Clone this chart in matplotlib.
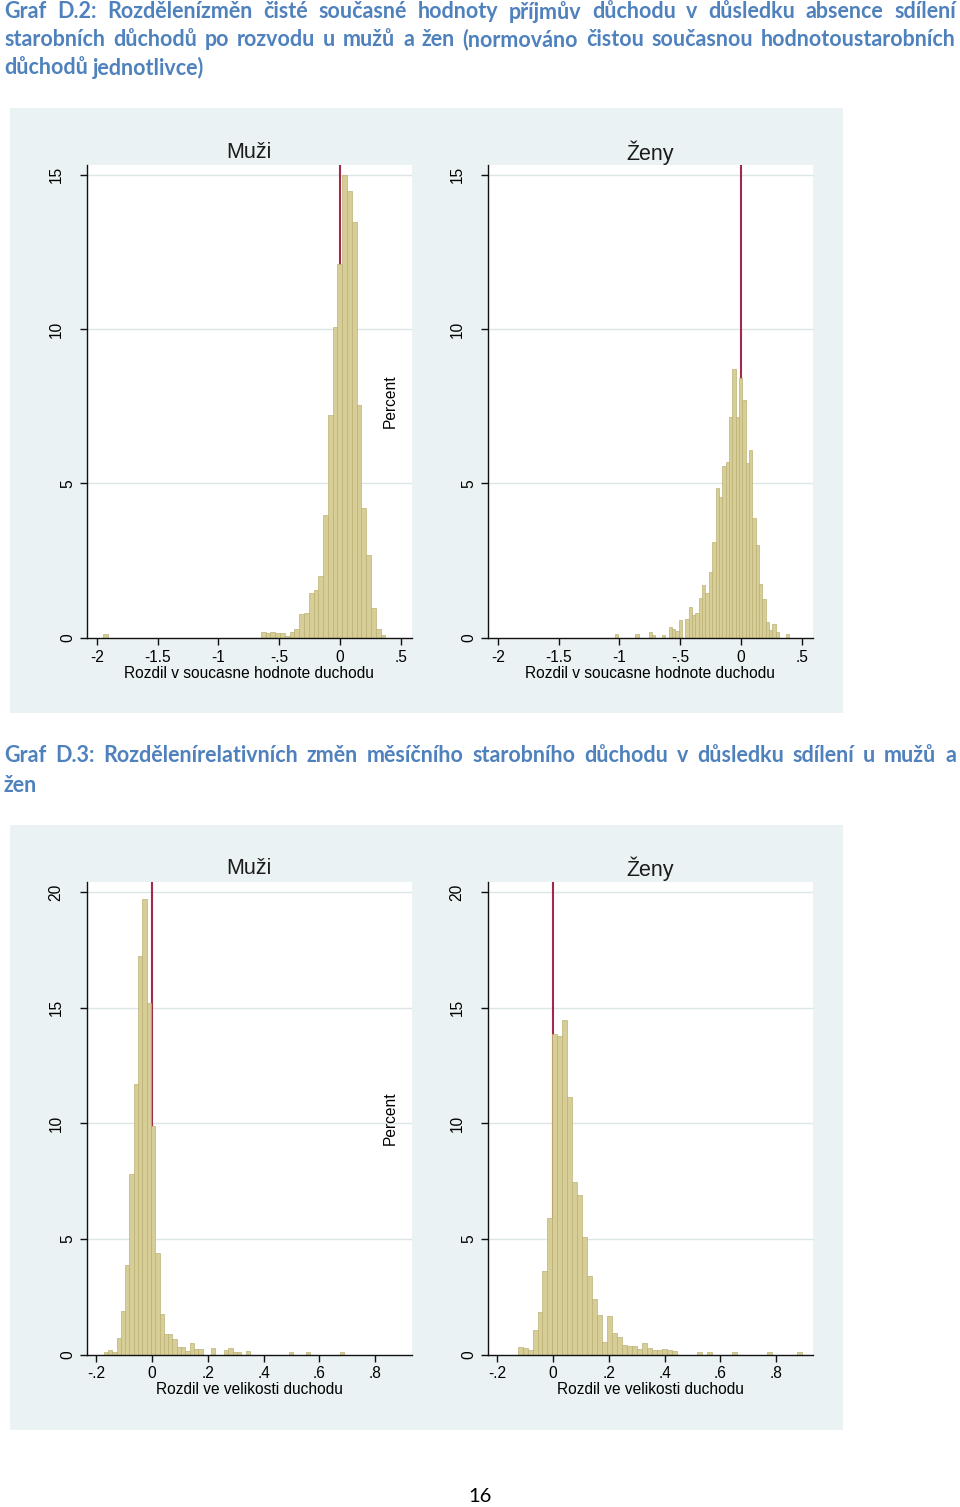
import matplotlib
matplotlib.use("Agg")
import matplotlib.pyplot as plt
from matplotlib.patches import Rectangle
from matplotlib import transforms

W, H, DPI = 960, 1507, 100

# ------------------------------------------------------------------ DATA
# Graf D.2 : percent of individuals per bin (histogram heights)
d2_muzi_start = -1.948
d2_muzi_width = 0.0393
d2_muzi_pct = [0.11,
               0, 0, 0, 0, 0, 0, 0, 0, 0, 0, 0, 0, 0, 0, 0, 0,
               0, 0, 0, 0, 0, 0, 0, 0, 0, 0, 0, 0, 0, 0, 0, 0,
               0.18, 0.15, 0.18, 0.13, 0.15, 0.04, 0.18, 0.29, 0.76, 0.80,
               1.43, 1.54, 1.99, 3.97, 7.20, 10.06, 12.12, 15.00, 14.47, 13.48,
               7.55, 4.19, 2.68, 0.97, 0.26, 0.08]

d2_zeny_start = -1.0358
d2_zeny_width = 0.0275
d2_zeny_pct = [0.11, 0, 0, 0, 0, 0, 0.11, 0, 0, 0,
               0.18, 0.08, 0, 0, 0.08, 0, 0.33, 0.29, 0.22, 0.57,
               0, 0.59, 0.99, 0.72, 0.81, 1.29, 1.69, 1.43, 2.13, 3.10,
               4.85, 4.55, 5.55, 5.70, 7.15, 8.69, 7.15, 8.40, 7.70, 5.65,
               6.08, 3.86, 3.00, 1.75, 1.25, 0.50, 0.24, 0.43, 0.17, 0,
               0, 0.11]

d2_xticks = [-2, -1.5, -1, -0.5, 0, 0.5]
d2_xticklabels = ["-2", "-1.5", "-1", "-.5", "0", ".5"]
d2_yticks = [0, 5, 10, 15]
d2_xlabel = "Rozdil v soucasne hodnote duchodu"

# Graf D.3
d3_muzi_start = -0.1732
d3_muzi_width = 0.01541
d3_muzi_pct = [0.09, 0.20, 0.12, 0.72, 1.89, 3.86, 7.79, 11.69, 17.21, 19.69,
               15.21, 9.89, 4.37, 1.74, 0.88, 0.88, 0.69, 0.33, 0.33, 0.14,
               0.49, 0.23, 0.23, 0, 0, 0.30, 0, 0, 0.19, 0.30,
               0.12, 0.09, 0, 0.14, 0, 0, 0, 0, 0, 0,
               0, 0, 0, 0.09, 0, 0, 0, 0.09, 0, 0,
               0, 0, 0, 0, 0, 0.12]

d3_zeny_start = -0.127
d3_zeny_width = 0.01786
d3_zeny_pct = [0.33, 0.27, 0.19, 1.05, 1.85, 3.61, 5.89, 13.85, 13.75, 14.47,
               11.15, 7.47, 6.90, 5.09, 3.39, 2.42, 1.70, 0.55, 1.66, 0.91,
               0.74, 0.40, 0.36, 0.36, 0.22, 0.51, 0.26, 0.19, 0.19, 0.25,
               0.19, 0.13, 0, 0, 0, 0, 0.09, 0, 0.09, 0,
               0, 0, 0, 0.09, 0, 0, 0, 0, 0, 0,
               0.09, 0, 0, 0, 0, 0, 0.09]

d3_xticks = [-0.2, 0, 0.2, 0.4, 0.6, 0.8]
d3_xticklabels = ["-.2", "0", ".2", ".4", ".6", ".8"]
d3_yticks = [0, 5, 10, 15, 20]
d3_xlabel = "Rozdil ve velikosti duchodu"

panel_titles = ["Muži", "Ženy"]
ylabel_text = "Percent"
ref_line_x = 0

title_d2 = ["Graf D.2: Rozdělenízměn čisté současné hodnoty příjmův důchodu v důsledku absence sdílení",
            "starobních důchodů po rozvodu u mužů a žen (normováno čistou současnou hodnotoustarobních",
            "důchodů jednotlivce)"]
title_d3 = ["Graf D.3: Rozdělenírelativních změn měsíčního starobního důchodu v důsledku sdílení u mužů a",
            "žen"]
page_number = "16"

# ------------------------------------------------------------------ STYLE
BG = "#EAF2F3"
GRID = "#DCE6E8"
BAR_FC = "#D6CE96"
BAR_EC = "#BBB174"
REF = "#A3294C"
TITLE_BLUE = "#4F81BD"
AX_FONT = ["Liberation Sans", "DejaVu Sans"]
TITLE_FONT = ["Lato", "DejaVu Sans"]

fig = plt.figure(figsize=(W / DPI, H / DPI), dpi=DPI)
fig.patch.set_facecolor("white")


def fx(px):
    return px / W


def fy(py):
    return 1 - py / H


def add_bg(x0, y0, x1, y1):
    fig.add_artist(Rectangle((fx(x0), fy(y1)), (x1 - x0) / W, (y1 - y0) / H,
                             transform=fig.transFigure, facecolor=BG,
                             edgecolor="none", zorder=-5))


def hist_panel(box, start, width, pct, xlim, ylim, xticks, xticklabels, yticks,
               tick_y_px, title, title_y_px):
    x0, y0, x1, y1 = box
    ax = fig.add_axes([fx(x0), fy(y1), (x1 - x0) / W, (y1 - y0) / H])
    ax.set_facecolor("white")
    lefts = [start + i * width for i in range(len(pct))]
    sel = [(l, h) for l, h in zip(lefts, pct) if h > 0]
    ax.bar([s[0] for s in sel], [s[1] for s in sel], width=width, align="edge",
           color=BAR_FC, edgecolor=BAR_EC, linewidth=0.5, zorder=3)
    ax.axvline(ref_line_x, color=REF, lw=1.5, zorder=2)
    for v in yticks[1:]:
        ax.axhline(v, color=GRID, lw=1.0, zorder=1)
    ax.set_xlim(*xlim)
    ax.set_ylim(*ylim)
    for s in ["top", "right"]:
        ax.spines[s].set_visible(False)
    for s in ["left", "bottom"]:
        ax.spines[s].set_linewidth(1.0)
        ax.spines[s].set_color("#111111")
        ax.spines[s].set_zorder(4)
    ax.set_xticks(xticks)
    ax.set_yticks(yticks)
    ax.tick_params(length=5, width=1, color="#111111", direction="out",
                   labelbottom=False, labelleft=False)
    # x tick labels
    tr_x = transforms.blended_transform_factory(ax.transData, fig.transFigure)
    for v, lab in zip(xticks, xticklabels):
        ax.text(v, fy(tick_y_px), lab, transform=tr_x, ha="center", va="center",
                fontsize=11.2, family=AX_FONT, color="black")
    # y tick labels (rotated)
    tr_y = transforms.blended_transform_factory(fig.transFigure, ax.transData)
    for v in yticks:
        lab = str(v)
        cx = x0 - 7 - 12 * len(lab)
        ax.text(fx(cx), v, lab, transform=tr_y, rotation=90, ha="center",
                va="center", fontsize=11.2, family=AX_FONT, color="black")
    fig.text(fx((x0 + x1) / 2), fy(title_y_px), title, ha="center", va="center",
             fontsize=15.5, family=AX_FONT, color="#1b1b1b")
    return ax


# ------------------------------------------------------------------ D.2
add_bg(10, 108, 843, 713)
d2_xlim = (-2.08, 0.586)
d2_ylim = (0, 15.32)
hist_panel((87, 165, 411.5, 637.5), d2_muzi_start, d2_muzi_width, d2_muzi_pct,
           d2_xlim, d2_ylim, d2_xticks, d2_xticklabels, d2_yticks, 657,
           panel_titles[0], 153)
hist_panel((488, 165, 812.5, 637.5), d2_zeny_start, d2_zeny_width, d2_zeny_pct,
           d2_xlim, d2_ylim, d2_xticks, d2_xticklabels, d2_yticks, 657,
           panel_titles[1], 153)
for cx in (249, 650):
    fig.text(fx(cx), fy(673), d2_xlabel, ha="center", va="center",
             fontsize=11.2, family=AX_FONT, color="black")
fig.text(fx(390), fy(401), ylabel_text, rotation=90, ha="center", va="center",
         fontsize=11.2, family=AX_FONT, color="black")

# ------------------------------------------------------------------ D.3
add_bg(10, 825, 843, 1430)
d3_xlim = (-0.233, 0.93)
d3_ylim = (0, 20.43)
hist_panel((87, 882, 411.5, 1354.5), d3_muzi_start, d3_muzi_width, d3_muzi_pct,
           d3_xlim, d3_ylim, d3_xticks, d3_xticklabels, d3_yticks, 1373,
           panel_titles[0], 869)
hist_panel((488, 882, 812.5, 1354.5), d3_zeny_start, d3_zeny_width, d3_zeny_pct,
           d3_xlim, d3_ylim, d3_xticks, d3_xticklabels, d3_yticks, 1373,
           panel_titles[1], 869)
for cx in (249, 650):
    fig.text(fx(cx), fy(1389), d3_xlabel, ha="center", va="center",
             fontsize=11.2, family=AX_FONT, color="black")
fig.text(fx(390), fy(1118), ylabel_text, rotation=90, ha="center", va="center",
         fontsize=11.2, family=AX_FONT, color="black")

# ------------------------------------------------------------------ TITLES (justified)
renderer = fig.canvas.get_renderer()
LEFT, RIGHT = 4, 956
TSIZE = 15.5


def word_widths(words, size):
    ws = []
    for w in words:
        t = fig.text(0, 0, w, fontsize=size, family=TITLE_FONT, weight="bold")
        ws.append(t.get_window_extent(renderer).width)
        t.remove()
    return ws


# fit size so that the longest justified line keeps a minimal word gap
for line in (title_d2[0], title_d2[1], title_d3[0]):
    words = line.split()
    ws = word_widths(words, TSIZE)
    need = sum(ws) + (len(words) - 1) * 0.2 * TSIZE * DPI / 72
    if need > RIGHT - LEFT:
        TSIZE *= (RIGHT - LEFT) / need


def draw_line(text, y_px, justify):
    words = text.split()
    ws = word_widths(words, TSIZE)
    if justify and len(words) > 1:
        gap = (RIGHT - LEFT - sum(ws)) / (len(words) - 1)
    else:
        gap = 0.25 * TSIZE * DPI / 72
    x = LEFT
    for w, wd in zip(words, ws):
        fig.text(fx(x), fy(y_px), w, fontsize=TSIZE, family=TITLE_FONT,
                 weight="bold", color=TITLE_BLUE, ha="left", va="center")
        x += wd + gap


draw_line(title_d2[0], 12, True)
draw_line(title_d2[1], 40, True)
draw_line(title_d2[2], 68, False)
draw_line(title_d3[0], 756, True)
draw_line(title_d3[1], 785, False)

fig.text(fx(480), fy(1497), page_number, ha="center", va="center",
         fontsize=14.5, family=TITLE_FONT, color="black")

fig.savefig("out.png", dpi=DPI, facecolor="white")
